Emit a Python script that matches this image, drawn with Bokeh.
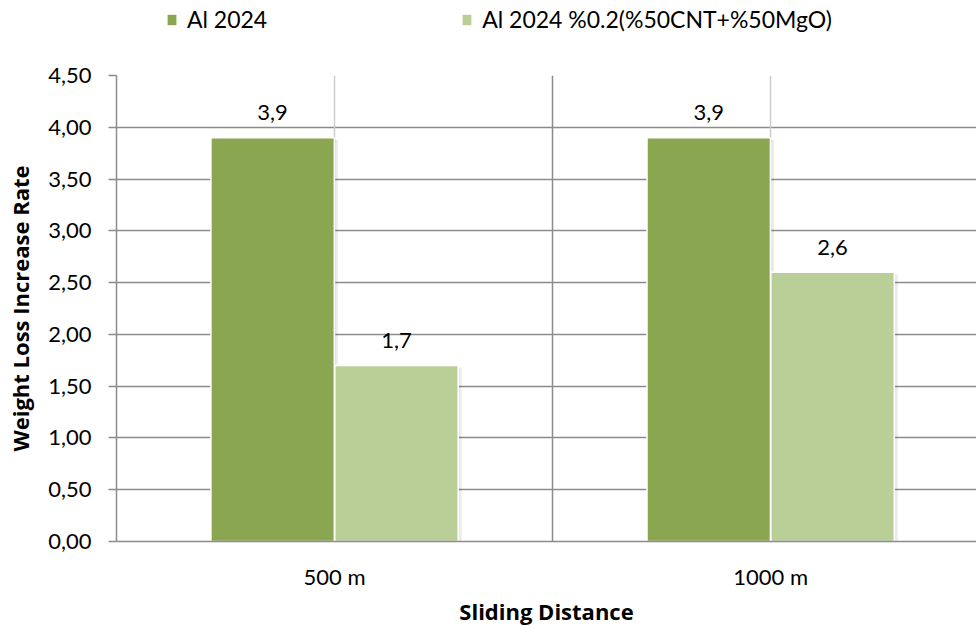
from bokeh.plotting import figure
from bokeh.models import (ColumnDataSource, Range1d, FixedTicker, Grid, LabelSet,
                          Legend, LegendItem)
from bokeh.layouts import column
from bokeh.core.properties import value
from bokeh.embed import file_html
from bokeh.resources import INLINE

# ---- data ----
categories = ["500 m", "1000 m"]
series_names = ["Al 2024", "Al 2024 %0.2(%50CNT+%50MgO)"]
al2024 = [3.9, 3.9]
al2024_composite = [1.7, 2.6]
y_ticks = [0.0, 0.5, 1.0, 1.5, 2.0, 2.5, 3.0, 3.5, 4.0, 4.5]
y_tick_labels = ["0,00", "0,50", "1,00", "1,50", "2,00", "2,50", "3,00", "3,50", "4,00", "4,50"]
x_title = "Sliding Distance"
y_title = "Weight Loss Increase Rate"

# ---- styling ----
FONT = "Lato"
BOLD_FONT = "Open Sans"
colors = ["#8BA650", "#BACF98"]
grid_dark = "#8C8C8C"
grid_light = "#CCCCCC"
bar_w = 0.283
offsets = [-0.142, 0.142]
LEG_H = 40

n = len(categories)
centers = [i + 0.5 for i in range(n)]
boundaries = [float(i) for i in range(n + 1)]

p = figure(width=976, height=628 - LEG_H, output_backend="svg", toolbar_location=None,
           x_range=Range1d(0, 1.972), y_range=Range1d(0, 4.5),
           min_border_left=116, min_border_right=0, min_border_top=75 - LEG_H,
           min_border_bottom=87)
p.outline_line_color = None
p.background_fill_color = "white"
p.border_fill_color = "white"

# grids
p.xgrid.visible = False
p.ygrid.ticker = FixedTicker(ticks=y_ticks)
p.ygrid.grid_line_color = grid_dark
p.ygrid.grid_line_width = 1.5
p.add_layout(Grid(dimension=0, ticker=FixedTicker(ticks=boundaries[1:-1]),
                  grid_line_color=grid_dark, grid_line_width=1.5))
p.add_layout(Grid(dimension=0, ticker=FixedTicker(ticks=centers),
                  grid_line_color=grid_light, grid_line_width=1.5))

# bars
series = [al2024, al2024_composite]
for k, vals in enumerate(series):
    xs = [c + offsets[k] for c in centers]
    src = ColumnDataSource(dict(x=xs, top=vals,
                                sl=[x + bar_w / 2 for x in xs],
                                sr=[x + bar_w / 2 + 0.008 for x in xs],
                                st=[v - 0.02 for v in vals],
                                lab=[("%.1f" % v).replace(".", ",") for v in vals]))
    p.quad(left="sl", right="sr", bottom=0, top="st", source=src,
           fill_color="#000000", fill_alpha=0.08, line_color=None)
    p.vbar(x="x", top="top", width=bar_w, bottom=0, source=src,
           fill_color=colors[k], line_color="white", line_width=1.5)
    p.add_layout(LabelSet(x="x", y="top", text="lab", source=src, y_offset=25,
                          text_align="center", text_baseline="middle",
                          text_font=value(FONT), text_font_size="22px",
                          text_color="#000000"))

# axes
ya = p.yaxis[0]
ya.ticker = FixedTicker(ticks=y_ticks)
ya.major_label_overrides = {t: s for t, s in zip(y_ticks, y_tick_labels)}
ya.major_label_text_font = FONT
ya.major_label_text_font_size = "22px"
ya.major_label_text_color = "#000000"
ya.major_label_standoff = 17
ya.major_tick_out = 8
ya.major_tick_in = 0
ya.minor_tick_line_color = None
ya.axis_line_color = grid_dark
ya.axis_line_width = 1.5
ya.major_tick_line_color = grid_dark
ya.major_tick_line_width = 1.5
ya.axis_label = y_title
ya.axis_label_text_font = BOLD_FONT
ya.axis_label_text_font_style = "bold"
ya.axis_label_text_font_size = "22px"
ya.axis_label_text_color = "#000000"
ya.axis_label_standoff = 10

xa = p.xaxis[0]
xa.ticker = FixedTicker(ticks=centers)
xa.major_label_overrides = {c: s for c, s in zip(centers, categories)}
xa.major_label_text_font = FONT
xa.major_label_text_font_size = "22px"
xa.major_label_text_color = "#000000"
xa.major_label_standoff = 21
xa.major_tick_out = 0
xa.major_tick_in = 0
xa.major_tick_line_color = None
xa.minor_tick_line_color = None
xa.axis_line_color = grid_dark
xa.axis_line_width = 1.5
xa.axis_label = x_title
xa.axis_label_text_font = BOLD_FONT
xa.axis_label_text_font_style = "bold"
xa.axis_label_text_font_size = "22px"
xa.axis_label_text_color = "#000000"
xa.axis_label_standoff = 3

# legend strip above the chart (frames of the column are aligned)
lf = figure(width=976, height=LEG_H, output_backend="svg", toolbar_location=None,
            x_axis_type=None, y_axis_type=None, min_border=0,
            x_range=Range1d(0, 1), y_range=Range1d(0, 1))
lf.outline_line_color = None
lf.xgrid.visible = False
lf.ygrid.visible = False
# legend swatches: one hidden point each, outside the visible range
leg_renderers = [lf.vbar(x=[-5], top=[-5], bottom=[-6], width=0.1, fill_color=colors[k],
                         line_color=None)
                 for k in range(len(series_names))]
legend = Legend(items=[LegendItem(label=series_names[k], renderers=[leg_renderers[k]])
                       for k in range(len(series_names))],
                orientation="horizontal", location=(50, 7),
                glyph_width=11, glyph_height=13, label_standoff=10, spacing=194,
                padding=0, margin=0, border_line_color=None,
                background_fill_alpha=0, label_text_font=FONT,
                label_text_font_size="23px", label_text_color="#000000")
lf.add_layout(legend, "center")

layout = column(lf, p, spacing=0)
open("out.html", "w").write(file_html(layout, INLINE))
